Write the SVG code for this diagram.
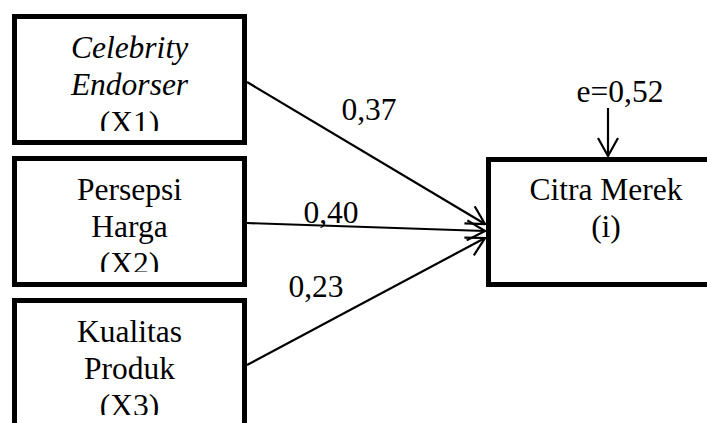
<svg xmlns="http://www.w3.org/2000/svg" width="707" height="423" viewBox="0 0 707 423">
  <style>
    .box { fill: #ffffff; stroke: #000000; stroke-width: 5; }
    .t { font-family: "Liberation Serif", "Times New Roman", serif; font-size: 31.5px; fill: #000000; text-anchor: middle; }
    .it { font-style: italic; }
    .conn { stroke: #000000; stroke-width: 2.2; fill: none; marker-end: url(#chev); }
  </style>
  <defs>
    <marker id="chev" viewBox="0 0 20 22" refX="19" refY="11" markerWidth="20" markerHeight="22" markerUnits="userSpaceOnUse" orient="auto">
      <path d="M1,1 L19,11 L1,21" fill="none" stroke="#000000" stroke-width="2.2"/>
    </marker>
    <clipPath id="c1"><rect x="17" y="19" width="225" height="112"/></clipPath>
    <clipPath id="c2"><rect x="17" y="161" width="225" height="111"/></clipPath>
    <clipPath id="c3"><rect x="17" y="303" width="225" height="112"/></clipPath>
  </defs>
  <rect width="707" height="423" fill="#ffffff"/>

  <g id="node-x1">
    <rect class="box" x="14.5" y="16.5" width="230" height="126"/>
    <g clip-path="url(#c1)">
      <text class="t it" x="129.5" y="58">Celebrity</text>
      <text class="t it" x="129.5" y="95">Endorser</text>
      <text class="t" x="129.5" y="133">(X1)</text>
    </g>
  </g>

  <g id="node-x2">
    <rect class="box" x="14.5" y="158.5" width="230" height="126"/>
    <g clip-path="url(#c2)">
      <text class="t" x="129.5" y="200">Persepsi</text>
      <text class="t" x="129.5" y="237">Harga</text>
      <text class="t" x="129.5" y="274">(X2)</text>
    </g>
  </g>

  <g id="node-x3">
    <rect class="box" x="14.5" y="300.5" width="230" height="150"/>
    <g clip-path="url(#c3)">
      <text class="t" x="129.5" y="342">Kualitas</text>
      <text class="t" x="129.5" y="379">Produk</text>
      <text class="t" x="129.5" y="416">(X3)</text>
    </g>
  </g>

  <g id="node-y">
    <rect class="box" x="488.5" y="159.5" width="240" height="125"/>
    <text class="t" x="606" y="200">Citra Merek</text>
    <text class="t" x="606" y="237">(i)</text>
  </g>

  <g id="error">
    <text class="t" x="620" y="102">e=0,52</text>
  </g>

  <g id="connectors">
    <line class="conn" x1="247" y1="82" x2="485" y2="224"/>
    <line class="conn" x1="247" y1="223" x2="485" y2="231"/>
    <line class="conn" x1="247" y1="365" x2="485" y2="238"/>
    <line class="conn" x1="608" y1="108" x2="608" y2="156"/>
    <text class="t" x="369" y="120">0,37</text>
    <text class="t" x="331" y="223">0,40</text>
    <text class="t" x="316" y="297">0,23</text>
  </g>
</svg>
